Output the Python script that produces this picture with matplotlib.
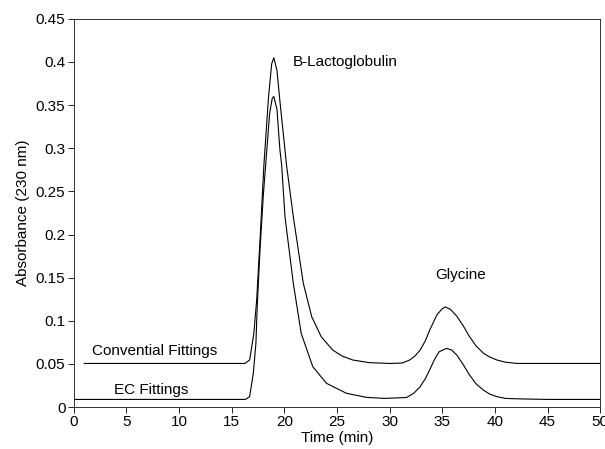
import matplotlib
matplotlib.use("Agg")
import matplotlib.pyplot as plt
from matplotlib.ticker import FuncFormatter

plt.rcParams['font.family'] = ['Liberation Sans', 'DejaVu Sans']

# Conventional fittings trace
conv_t = [1.0, 5, 10, 15, 16.25, 16.7, 17.1, 17.37, 17.7, 18.06, 18.5, 18.8, 19.0,
          19.3, 19.6, 20.06, 20.2, 20.85, 21.8, 22.6, 23.5, 24.6, 25.5, 26.5, 28.1,
          30.0, 31.2, 31.9, 32.4, 32.9, 33.4, 33.8, 34.5, 35.0, 35.3, 35.8, 36.4,
          37.0, 37.6, 38.2, 38.9, 39.5, 40.2, 41.0, 42.1, 45, 50]
conv_a = [0.0505, 0.0505, 0.0505, 0.0505, 0.0505, 0.0545, 0.085, 0.124, 0.196, 0.281, 0.360, 0.398, 0.405,
          0.390, 0.352, 0.298, 0.281, 0.2207, 0.1435, 0.1047, 0.0815, 0.066, 0.059, 0.0545, 0.0514,
          0.0505, 0.051, 0.0545, 0.059, 0.066, 0.077, 0.089, 0.107, 0.114, 0.116, 0.113, 0.105,
          0.094, 0.0815, 0.071, 0.0625, 0.058, 0.0545, 0.052, 0.0505, 0.0505, 0.0505]

# EC fittings trace
ec_t = [0, 5, 10, 15, 16.3, 16.7, 17.05, 17.3, 17.42, 17.7, 18.0, 18.25, 18.6, 18.85, 19.0,
        19.3, 19.58, 19.74, 20.06, 20.85, 21.6, 22.7, 24.0, 25.9, 27.8, 29.5,
        31.6, 32.3, 32.9, 33.4, 33.8, 34.3, 34.7, 35.4, 35.9, 36.4, 37.0, 37.6,
        38.2, 38.9, 39.5, 40.2, 41.0, 42.1, 45, 50]
ec_a = [0.0088, 0.0088, 0.0088, 0.0088, 0.0088, 0.012, 0.039, 0.074, 0.116, 0.185, 0.245, 0.285, 0.340, 0.358, 0.360,
        0.345, 0.298, 0.281, 0.2207, 0.1435, 0.0854, 0.0468, 0.0275, 0.0159, 0.0112, 0.010,
        0.011, 0.016, 0.0236, 0.033, 0.043, 0.056, 0.064, 0.068, 0.066, 0.060, 0.049, 0.037,
        0.027, 0.0197, 0.015, 0.012, 0.010, 0.0095, 0.0088, 0.0088]

x_ticks = [0, 5, 10, 15, 20, 25, 30, 35, 40, 45, 50]
y_ticks = [0, 0.05, 0.1, 0.15, 0.2, 0.25, 0.3, 0.35, 0.4, 0.45]

fig = plt.figure(figsize=(6.05, 4.49), dpi=100)
ax = fig.add_axes([0.122, 0.0935, 0.870, 0.8645])

ax.plot(conv_t, conv_a, color='black', lw=0.8, solid_joinstyle='round')
ax.plot(ec_t, ec_a, color='black', lw=0.8, solid_joinstyle='round')

ax.set_xlim(0, 50)
ax.set_ylim(0, 0.45)
ax.set_xticks(x_ticks)
ax.set_yticks(y_ticks)
ax.yaxis.set_major_formatter(FuncFormatter(lambda v, p: '%g' % v))
ax.tick_params(direction='out', length=4, width=0.6, labelsize=11, pad=2)
for s in ax.spines.values():
    s.set_linewidth(0.7)
    s.set_color('#333333')

ax.set_xlabel('Time (min)', fontsize=11, labelpad=1)
ax.set_ylabel('Absorbance (230 nm)', fontsize=11, labelpad=4)

ax.text(20.8, 0.4, 'B-Lactoglobulin', fontsize=11, va='center', ha='left')
ax.text(34.3, 0.153, 'Glycine', fontsize=11, va='center', ha='left')
ax.text(1.7, 0.065, 'Convential Fittings', fontsize=11, va='center', ha='left')
ax.text(3.8, 0.02, 'EC Fittings', fontsize=11, va='center', ha='left')

fig.savefig('out.png', dpi=100)
